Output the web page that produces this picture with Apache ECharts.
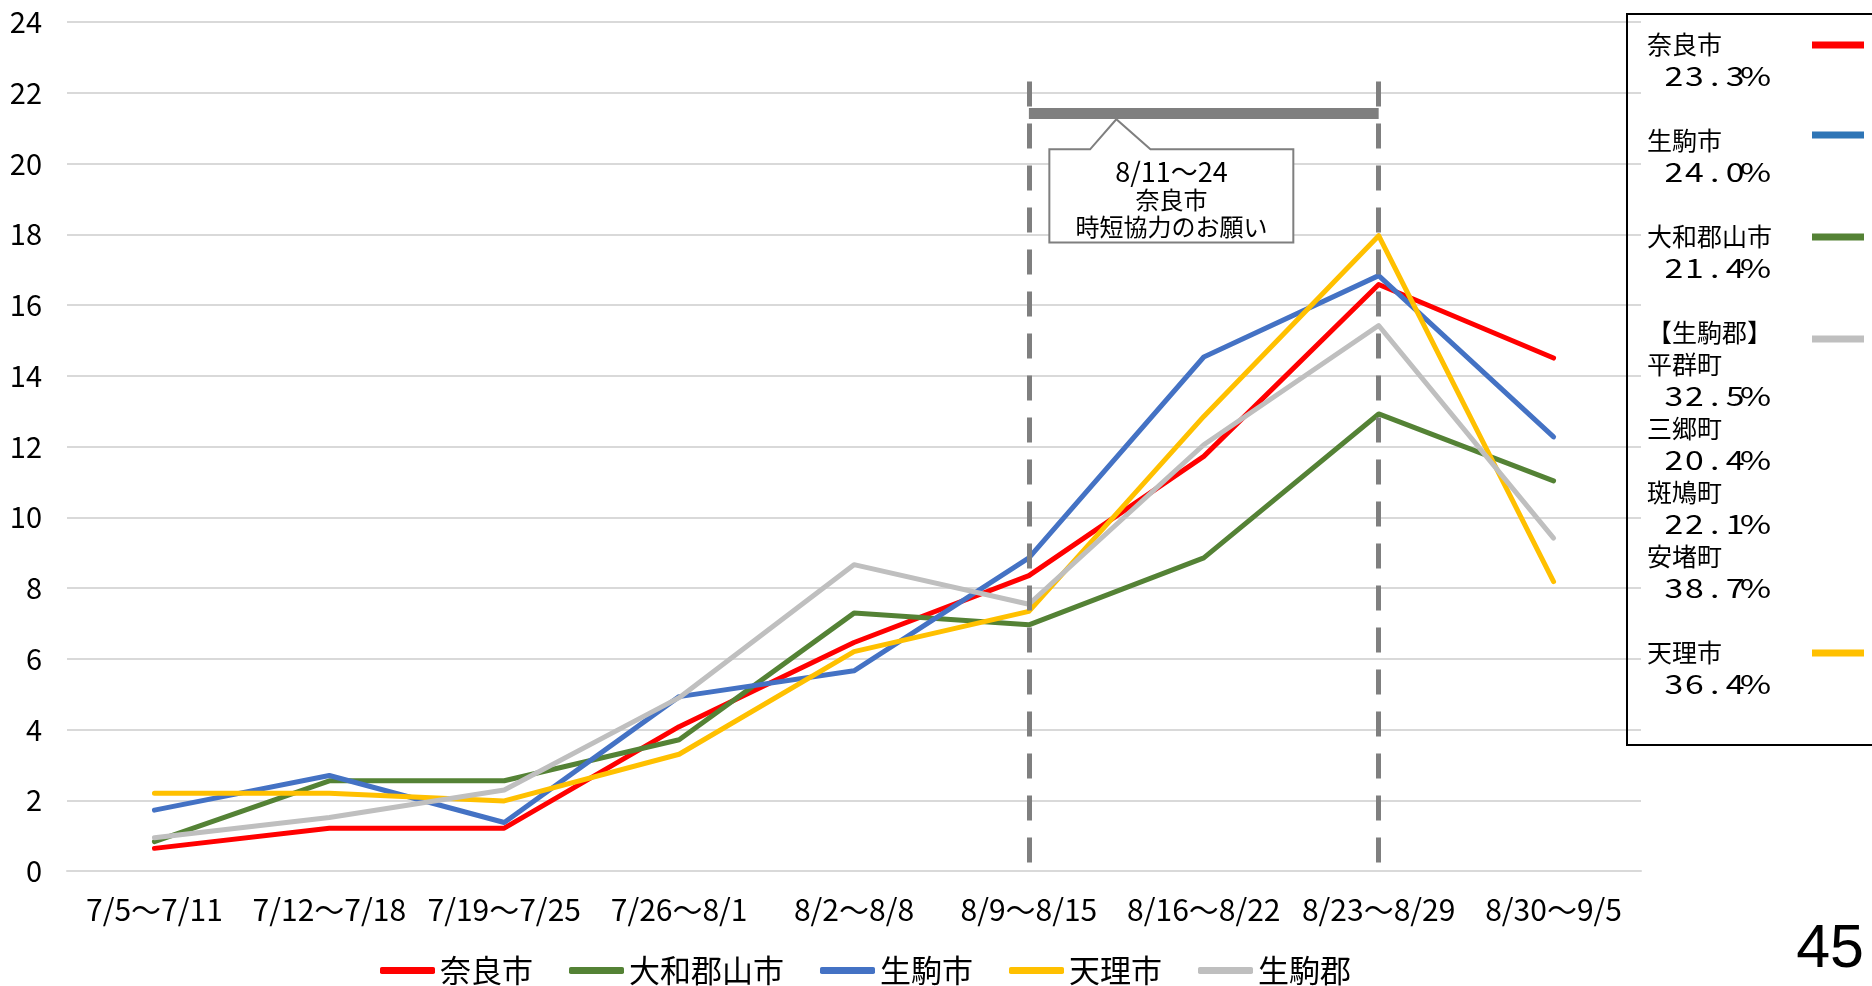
<!DOCTYPE html>
<html>
<head>
<meta charset="utf-8">
<script src="https://cdn.jsdelivr.net/npm/echarts@6/dist/echarts.min.js"></script>
<style>
  html, body { margin: 0; padding: 0; background: #ffffff; }
  #chart { width: 1872px; height: 986px; }
</style>
</head>
<body>
<div id="chart"></div>
<script>
// Weekly values per area (7/5 – 9/5)
const weeks = ['7/5～7/11', '7/12～7/18', '7/19～7/25', '7/26～8/1', '8/2～8/8',
               '8/9～8/15', '8/16～8/22', '8/23～8/29', '8/30～9/5'];
const naraCity     = [0.64, 1.21, 1.21, 4.08, 6.46, 8.35, 11.72, 16.58, 14.50];
const yamatokoriyama = [0.83, 2.55, 2.55, 3.71, 7.29, 6.96, 8.85, 12.92, 11.03];
const ikomaCity    = [1.72, 2.70, 1.37, 4.93, 5.66, 8.85, 14.53, 16.83, 12.27];
const tenriCity    = [2.20, 2.20, 1.98, 3.30, 6.20, 7.34, 12.85, 17.96, 8.18];
const ikomaGun     = [0.94, 1.51, 2.29, 4.90, 8.66, 7.54, 12.05, 15.42, 9.41];

const seriesNames  = ['奈良市', '大和郡山市', '生駒市', '天理市', '生駒郡'];
const seriesColors = ['#FF0000', '#548235', '#4472C4', '#FFC000', '#BFBFBF'];

// Side panel: per-area share figures
const panelHeads   = ['奈良市', '生駒市', '大和郡山市', '【生駒郡】', '天理市'];
const panelColors  = ['#FF0000', '#2E75B6', '#548235', '#BFBFBF', '#FFC000'];
const gunTowns     = ['平群町', '三郷町', '斑鳩町', '安堵町'];
const gunRates     = ['32.5%', '20.4%', '22.1%', '38.7%'];
const cityRates    = ['23.3%', '24.0%', '21.4%', null, '36.4%'];

// Request period note
const noteLines = ['8/11～24', '奈良市', '時短協力のお願い'];
const periodStart = 5, periodEnd = 7;

const JP = '"Noto Sans CJK JP", "Noto Sans CJK SC", sans-serif';
const GRAY = '#7F7F7F';

const chart = echarts.init(document.getElementById('chart'));

const seriesData = [naraCity, yamatokoriyama, ikomaCity, tenriCity, ikomaGun];

const series = seriesNames.map((name, i) => ({
  name,
  type: 'line',
  data: seriesData[i],
  symbol: 'none',
  showSymbol: false,
  smooth: false,
  lineStyle: { width: 5, color: seriesColors[i], cap: 'round', join: 'round' },
  itemStyle: { color: seriesColors[i] },
  emphasis: { disabled: true },
  z: 2 + i
}));

// Dashed period boundaries and the period bar
series[0].markLine = {
  silent: true,
  symbol: ['none', 'none'],
  label: { show: false },
  emphasis: { disabled: true },
  animation: false,
  z: 10,
  data: [
    [{ coord: [weeks[periodStart], 22.32], lineStyle: { color: GRAY, width: 5, type: [25, 17] } },
     { coord: [weeks[periodStart], 0] }],
    [{ coord: [weeks[periodEnd], 22.32], lineStyle: { color: GRAY, width: 5, type: [25, 17] } },
     { coord: [weeks[periodEnd], 0] }],
    [{ coord: [weeks[periodStart], 21.42], lineStyle: { color: GRAY, width: 11, type: 'solid', cap: 'butt' } },
     { coord: [weeks[periodEnd], 21.42] }]
  ]
};

chart.setOption({
  animation: false,
  backgroundColor: '#ffffff',
  grid: { left: 67, right: 231, top: 22, bottom: 115, containLabel: false },
  xAxis: {
    type: 'category',
    data: weeks,
    boundaryGap: true,
    axisLine: { show: true, lineStyle: { color: '#D9D9D9', width: 2 } },
    axisTick: { show: false },
    axisLabel: { interval: 0, color: '#000000', fontSize: 30, fontFamily: JP, margin: 24 },
    splitLine: { show: false }
  },
  yAxis: {
    type: 'value',
    min: 0, max: 24, interval: 2,
    axisLine: { show: false },
    axisTick: { show: false },
    axisLabel: { color: '#000000', fontSize: 29, fontFamily: JP, margin: 25 },
    splitLine: { lineStyle: { color: '#D9D9D9', width: 2 } }
  },
  legend: {
    data: seriesNames,
    left: 375,
    top: 950,
    icon: 'roundRect',
    itemWidth: 55,
    itemHeight: 7,
    itemGap: 36,
    textStyle: { color: '#000000', fontSize: 31, fontFamily: JP },
    selectedMode: false
  },
  series
});

// ---- overlay graphics: note callout, side panel, page number ----
const px = (idx, val) => chart.convertToPixel({ gridIndex: 0 }, [idx, val]);
const p5 = px(periodStart, 0), p6 = px(periodStart + 1, 0);
const band = p6[0] - p5[0];
const xAt = f => p5[0] + (f - periodStart) * band;
const yAt = v => chart.convertToPixel({ yAxisIndex: 0 }, v);

const cL = xAt(5.117), cR = xAt(6.512);
const bL = xAt(5.35), bR = xAt(5.695), ax = xAt(5.5);
const cT = yAt(20.4), cB = yAt(17.77), ay = yAt(21.25);

const graphics = [];

graphics.push({
  type: 'polygon',
  z: 50,
  shape: { points: [[cL, cT], [bL, cT], [ax, ay], [bR, cT], [cR, cT], [cR, cB], [cL, cB]] },
  style: { fill: '#ffffff', stroke: GRAY, lineWidth: 2 }
});
const noteY = [19.76, 18.97, 18.2];
const noteSize = [27, 24, 24];
noteLines.forEach((line, i) => {
  graphics.push({
    type: 'text',
    z: 51,
    x: xAt(5.815),
    y: yAt(noteY[i]),
    style: {
      text: line,
      font: noteSize[i] + 'px ' + JP,
      fill: '#000000',
      textAlign: 'center',
      textVerticalAlign: 'middle',
      verticalAlign: 'middle'
    }
  });
});

// Side panel frame
graphics.push({
  type: 'rect',
  z: 40,
  shape: { x: 1627, y: 14, width: 260, height: 731 },
  style: { fill: 'none', stroke: '#000000', lineWidth: 2 }
});

const nameX = 1647, pctX0 = 1674, pctPitch = 20.4, pitch = 32;
function addName(text, y) {
  graphics.push({
    type: 'text', z: 41, x: nameX, y,
    style: { text, font: '25px ' + JP, fill: '#000000', textAlign: 'left', verticalAlign: 'middle', textVerticalAlign: 'middle' }
  });
}
function addRate(text, y) {
  [...text].forEach((ch, k) => {
    graphics.push({
      type: 'text', z: 41, x: pctX0 + k * pctPitch, y, scaleX: 1.3,
      style: { text: ch, font: '26px ' + JP, fill: '#000000', textAlign: 'center', verticalAlign: 'middle', textVerticalAlign: 'middle' }
    });
  });
}
function addKey(color, y) {
  graphics.push({
    type: 'rect', z: 41,
    shape: { x: 1812, y: y - 3.5, width: 52, height: 7 },
    style: { fill: color }
  });
}

let y = 44;
const keyOffsets = [1, -5, 1, 7, 1];
panelHeads.forEach((head, g) => {
  addName(head, y);
  addKey(panelColors[g], y + keyOffsets[g]);
  y += pitch;
  if (cityRates[g]) {
    addRate(cityRates[g], y);
    y += pitch;
  } else {
    gunTowns.forEach((town, t) => {
      addName(town, y);
      y += pitch;
      addRate(gunRates[t], y);
      y += pitch;
    });
  }
  y += pitch;
});

// Page number
graphics.push({
  type: 'text', z: 41, x: 1864, y: 950,
  style: { text: '45', font: '61px "Liberation Sans", Arial, sans-serif', fill: '#000000', textAlign: 'right', verticalAlign: 'middle', textVerticalAlign: 'middle' }
});

chart.setOption({ graphic: graphics });
</script>
</body>
</html>
